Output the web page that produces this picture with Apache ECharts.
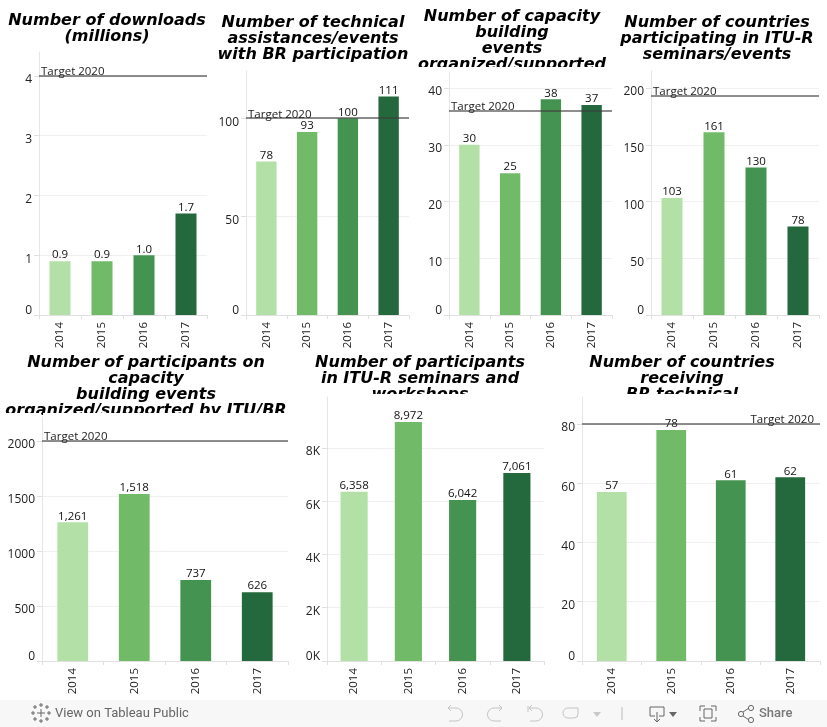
<!DOCTYPE html>
<html><head><meta charset="utf-8">
<style>html,body{margin:0;padding:0;background:#fff}#c{width:827px;height:727px}</style>
<script src="https://cdn.jsdelivr.net/npm/echarts@6/dist/echarts.min.js"></script>
</head><body><div id="c"></div>
<script>
const years = ['2014','2015','2016','2017'];
const barColors = ['#b3e0a6','#71ba68','#459350','#24693d'];
const downloads = [0.9,0.9,1.0,1.7];
const assistances = [78,93,100,111];
const capacityEvents = [30,25,38,37];
const countriesSeminars = [103,161,130,78];
const participantsCapacity = [1261,1518,737,626];
const participantsSeminars = [6358,8972,6042,7061];
const countriesAssist = [57,78,61,62];
const panels = [
 {title:'Number of downloads\n(millions)',tx:107,ty:13,data:downloads,ticks:[0,1,2,3,4],max:4.4,target:4,l:39,r:207,t:52,b:315,dec:1},
 {title:'Number of technical\nassistances/events\nwith BR participation',tx:313,ty:15,data:assistances,ticks:[0,50,100],max:124,target:100,l:246,r:409,t:71,b:315},
 {title:'Number of capacity\nbuilding\nevents\norganized/supported',tx:512,ty:9,data:capacityEvents,ticks:[0,10,20,30,40],max:43,target:36,l:449,r:612,t:71,b:315,clip:[[415,67,190,5]]},
 {title:'Number of countries\nparticipating in ITU-R\nseminars/events',tx:717,ty:15,data:countriesSeminars,ticks:[0,50,100,150,200],max:215,target:193,l:651,r:819,t:71,b:315},
 {title:'Number of participants on\ncapacity\nbuilding events\norganized/supported by ITU/BR',tx:146,ty:355,data:participantsCapacity,ticks:[0,500,1000,1500,2000],max:2218,target:2000,l:42,r:288,t:417,b:661,clip:[[0,413,41,9],[43,413,257,9]]},
 {title:'Number of participants\nin ITU-R seminars and\nworkshops',tx:420,ty:355,data:participantsSeminars,ticks:[0,2000,4000,6000,8000],max:9915,l:327,r:544,t:397,b:661,k:true,clip:[[330,394,210,8]]},
 {title:'Number of countries\nreceiving\nBR technical',tx:682,ty:355,data:countriesAssist,ticks:[0,20,40,60,80],max:89.1,target:80,l:582,r:820,t:397,b:661,end:true,clip:[[590,394,210,8]]}
];
const txt='#222';
const font='"Open Sans"';
const opt={animation:false,backgroundColor:'#fff',title:[],grid:[],xAxis:[],yAxis:[],series:[],graphic:[]};
panels.forEach((p,i)=>{
 opt.title.push({text:p.title,left:p.tx,top:p.ty,textAlign:'center',z:5,padding:0,
  textStyle:{fontFamily:'DejaVu Sans',fontWeight:'bold',fontStyle:'oblique',fontSize:16,lineHeight:16,color:'#000'}});
 opt.grid.push({left:p.l,top:p.t,width:p.r-p.l,height:p.b-p.t,containLabel:false});
 opt.xAxis.push({type:'category',gridIndex:i,data:years,
  axisLine:{lineStyle:{color:'#e0e0e0',width:1}},
  axisTick:{show:true,length:4,lineStyle:{color:'#e0e0e0'},alignWithLabel:false},
  axisLabel:{rotate:90,margin:7,padding:[4,0,0,0],fontFamily:font,fontSize:11.5,color:txt,interval:0}});
 opt.yAxis.push({type:'value',gridIndex:i,min:0,max:p.max,
  axisLine:{show:true,lineStyle:{color:'#e6e6e6',width:1}},
  axisTick:{show:true,length:5,lineStyle:{color:'#e0e0e0'},customValues:p.ticks},
  splitLine:{show:true,lineStyle:{color:'#f0f0f0',width:1}},
  axisLabel:{customValues:p.ticks,margin:7,fontFamily:font,fontSize:12,color:txt,
   formatter:v=>{const s=p.k?(v/1000)+'K':String(v);return v===0?'{z|'+s+'}':'{n|'+s+'}';},
   rich:{z:{padding:[0,0,8,0],fontFamily:font,fontSize:12,color:txt},n:{padding:[8,0,0,0],fontFamily:font,fontSize:12,color:txt}}}});
 const s={type:'bar',xAxisIndex:i,yAxisIndex:i,barWidth:'50%',
  data:p.data.map((v,j)=>({value:v,itemStyle:{color:barColors[j]}})),
  label:{show:true,position:'top',distance:0,fontFamily:font,fontSize:11.5,color:'#111',
   formatter:o=>p.dec?o.value.toFixed(p.dec):o.value.toLocaleString('en-US')}};
 if(p.target!==undefined){
  s.markLine={silent:true,symbol:'none',z:8,animation:false,
   lineStyle:{color:'rgba(60,60,60,0.58)',width:2,type:'solid'},
   label:{show:true,position:p.end?'insideEndTop':'insideStartTop',distance:p.end?[6,-2]:[2,-2],formatter:'Target 2020',
    fontFamily:font,fontSize:11.5,color:'#222'},
   data:[{yAxis:p.target}]};
 }
 opt.series.push(s);
 (p.clip||[]).forEach(c=>opt.graphic.push({type:'rect',z:20,silent:true,shape:{x:c[0],y:c[1],width:c[2],height:c[3]},style:{fill:'#fff'}}));
});
const grey='#c4c4c4',dark='#666';
const G=opt.graphic;
G.push({type:'rect',z:20,silent:true,shape:{x:0,y:700,width:827,height:27},style:{fill:'#f7f7f7'}});
G.push({type:'text',z:21,silent:true,x:55,y:707,style:{text:'View on Tableau Public',font:'13px Roboto',fill:'#666'}});
G.push({type:'text',z:21,silent:true,x:759,y:707,style:{text:'Share',font:'500 13px Roboto',fill:'#777'}});
function pl(points,stroke,w){G.push({type:'polyline',z:21,silent:true,shape:{points},style:{stroke,lineWidth:w||1,fill:null}});}
function tri(x,y,c){G.push({type:'polygon',z:21,silent:true,shape:{points:[[x,y],[x+8,y],[x+4,y+5]]},style:{fill:c}});}
function arc(cx,cy,r,a0,a1,c){G.push({type:'arc',z:21,silent:true,shape:{cx,cy,r,startAngle:a0,endAngle:a1,clockwise:true},style:{stroke:c,fill:null,lineWidth:1}});}
const H=Math.PI/2;
// tableau mark
[[41,713,4],[35,707,2],[47,707,2],[35,719,2],[47,719,2],[41,705,2],[41,721,2],[33,713,2],[49,713,2]].forEach(c=>{
 pl([[c[0]-c[2],c[1]],[c[0]+c[2],c[1]]],'#666');pl([[c[0],c[1]-c[2]],[c[0],c[1]+c[2]]],'#666');});
// undo
pl([[451,705],[448,708],[451,711]],grey);pl([[448,708],[456,708]],grey);arc(456,714.5,6.5,-H,H,grey);pl([[456,721],[449,721]],grey);
// redo
pl([[499,705],[502,708],[499,711]],grey);pl([[502,708],[494,708]],grey);arc(494,714.5,6.5,H,3*H,grey);pl([[494,721],[501,721]],grey);
// revert
pl([[528,706],[528,712]],grey);pl([[532,705],[529,708],[532,711]],grey);pl([[529,708],[536,708]],grey);arc(536,714.5,6.5,-H,H,grey);pl([[536,721],[530,721]],grey);
// refresh
pl([[578,714],[578,708],[568,708]],grey);arc(568,713,5,H,3*H,grey);pl([[568,718],[574,718]],grey);arc(574,714,4,0,H,grey);
tri(593,712,'#c8c8c8');
pl([[622,707],[622,720]],'#bbb');
// download
pl([[655,716],[650,716],[650,707],[664,707],[664,716],[659,716]],'#666');pl([[657,712],[657,722]],'#666');pl([[654,719],[657,722],[660,719]],'#666');
tri(669,712,'#666');
// fullscreen
pl([[700,711],[700,706],[705,706]],'#666');pl([[711,706],[716,706],[716,711]],'#666');pl([[716,717],[716,721],[711,721]],'#666');pl([[705,721],[700,721],[700,717]],'#666');
pl([[704,709],[712,709],[712,718],[704,718],[704,709]],'#666');
// share
pl([[743,712],[749,708]],'#666');pl([[743,716],[749,720]],'#666');
[[741,714],[751,708],[751,720]].forEach(c=>G.push({type:'circle',z:21,silent:true,shape:{cx:c[0],cy:c[1],r:2.6},style:{stroke:'#666',fill:'#f7f7f7',lineWidth:1}}));
echarts.init(document.getElementById('c'),null,{renderer:'canvas'}).setOption(opt);
</script></body></html>
